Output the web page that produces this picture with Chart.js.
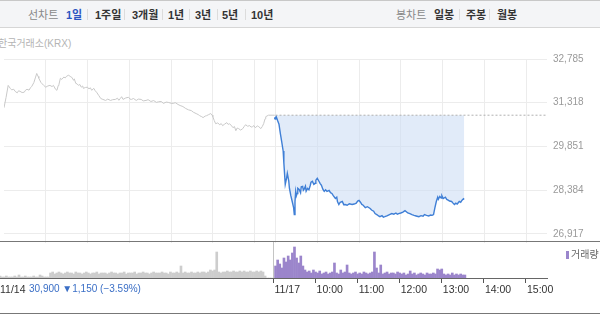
<!DOCTYPE html>
<html>
<head>
<meta charset="utf-8">
<script src="https://cdn.jsdelivr.net/npm/chart.js@4"></script>
<style>
    body { margin: 0; width: 600px; height: 315px; overflow: hidden; background: #fff;
        font-family: "Liberation Sans", "Noto Sans CJK KR", sans-serif; }
    .topBar { position: absolute; left: 0; top: 0; width: 600px; height: 28px; background: #f4f5f7;
        border-top: 1px solid #c8c8c8; border-bottom: 1px solid #d6d6d6; box-sizing: border-box; }
    .tab { position: absolute; top: 5px; font-size: 11px; font-weight: bold; color: #333; white-space: nowrap; }
    .tabOff { color: #888; font-weight: normal; }
    .tabOn { color: #2b55c2; }
    .sep { position: absolute; top: 8px; width: 1px; height: 11px; background: #dcdcdc; }
    .source { position: absolute; left: -2px; top: 35px; font-size: 10px; color: #b4b4b4; }
    .line { position: absolute; left: 0; width: 600px; height: 1px; background: #777; }
    .info { position: absolute; left: 29px; top: 283px; font-size: 10px; color: #3b6fc6; white-space: nowrap; }
    .legend { position: absolute; left: 566px; top: 246px; font-size: 10px; color: #666; white-space: nowrap; }
    .legend i { display: inline-block; width: 3px; height: 8px; background: #9a86cc; margin-right: 2px; vertical-align: -1px; }
    #priceBox { position: absolute; left: 0; top: 28px; width: 600px; height: 227px; }
    #volBox { position: absolute; left: 0; top: 242px; width: 600px; height: 71px; }
</style>
</head>
<body>
<div class="topBar">
    <span class="tab tabOff" style="left:28px">선차트</span>
    <span class="tab tabOn" style="left:66px">1일</span>
    <span class="sep" style="left:87px"></span>
    <span class="tab" style="left:95px">1주일</span>
    <span class="sep" style="left:124px"></span>
    <span class="tab" style="left:132px">3개월</span>
    <span class="sep" style="left:162px"></span>
    <span class="tab" style="left:168px">1년</span>
    <span class="sep" style="left:189px"></span>
    <span class="tab" style="left:195px">3년</span>
    <span class="sep" style="left:217px"></span>
    <span class="tab" style="left:222px">5년</span>
    <span class="sep" style="left:245px"></span>
    <span class="tab" style="left:251px">10년</span>

    <span class="tab tabOff" style="left:396px">봉차트</span>
    <span class="tab" style="left:434px">일봉</span>
    <span class="sep" style="left:459px"></span>
    <span class="tab" style="left:466px">주봉</span>
    <span class="sep" style="left:489px"></span>
    <span class="tab" style="left:497px">월봉</span>
</div>
<div class="source">한국거래소(KRX)</div>
<div id="priceBox"><canvas id="priceChart"></canvas></div>
<div class="line" style="top:241px"></div>
<div id="volBox"><canvas id="volChart"></canvas></div>
<div class="line" style="top:313px"></div>
<div class="legend"><i></i>거래량</div>
<div class="info">30,900 ▼1,150 (−3.59%)</div>

<script>
// minutes counted from 11/14 09:00; 11/17 09:00 = 390 (the two sessions sit side by side)
const prevClose = 30900;
const yTicks = [32785, 31318, 29851, 28384, 26917];
const gridMins = [60, 120, 180, 240, 300, 360, 390, 450, 510, 570, 630, 690, 750];
const xTickMins = [0, 390, 450, 510, 570, 630, 690, 750];
const xTickText = ['11/14', '11/17', '10:00', '11:00', '12:00', '13:00', '14:00', '15:00'];

const prevMin = [0, 3, 6, 9, 11, 14, 16, 19, 21, 23, 26, 29, 31, 33, 36, 38, 40, 43, 45, 47, 49, 50, 53, 55, 57, 60,
    63, 66, 69, 71, 74, 76, 78, 79, 81, 83, 86, 88, 90, 93, 95, 97, 100, 101, 103, 105, 107, 109, 111, 113, 114, 117,
    120, 122, 124, 126, 129, 131, 133, 136, 139, 142, 146, 149, 153, 156, 160, 163, 165, 167, 169, 171, 175, 179, 181,
    183, 186, 190, 193, 197, 200, 204, 207, 211, 215, 219, 222, 226, 229, 233, 236, 240, 243, 246, 250, 253, 257, 261,
    265, 269, 272, 276, 279, 281, 284, 286, 289, 291, 294, 297, 299, 300, 302, 304, 307, 310, 312, 314, 317, 320, 322,
    324, 327, 329, 331, 333, 335, 337, 340, 343, 345, 347, 350, 353, 355, 357, 359, 361, 364, 366, 369, 371, 373, 375,
    376, 380, 385, 389];
const prevPrice = [31150, 31500, 31900, 31800, 31750, 31770, 31700, 31650, 31720, 31700, 31660, 31670, 31740, 31770,
    31740, 31820, 31870, 32000, 32150, 32300, 32200, 32140, 32000, 31950, 31900, 31840, 31880, 31900, 31860, 31900,
    31770, 31735, 31900, 31940, 32140, 32100, 32180, 32150, 32210, 32240, 32200, 32180, 32070, 32120, 31970, 31950,
    31900, 31930, 31840, 31880, 31800, 31830, 31840, 31780, 31820, 31735, 31800, 31720, 31670, 31565, 31460, 31430,
    31395, 31440, 31395, 31420, 31430, 31470, 31400, 31460, 31520, 31430, 31480, 31500, 31440, 31430, 31460, 31395,
    31440, 31430, 31380, 31395, 31420, 31360, 31390, 31330, 31350, 31360, 31295, 31340, 31330, 31300, 31295, 31320,
    31260, 31225, 31190, 31125, 31080, 31055, 31000, 30955, 30920, 30885, 30850, 30820, 30870, 30885, 30920, 30955,
    30900, 30850, 30720, 30615, 30640, 30580, 30620, 30550, 30600, 30650, 30590, 30615, 30540, 30480, 30520, 30380,
    30470, 30450, 30400, 30450, 30520, 30580, 30530, 30550, 30500, 30515, 30550, 30480, 30540, 30515, 30450, 30520,
    30615, 30780, 30850, 30900, 30900, 30900];

const todayMin = [390, 391, 393, 395, 397, 399, 401, 402, 404, 406, 407, 409, 410, 412, 414, 416, 417, 418, 419, 420,
    421, 422, 424, 426, 427, 429, 430, 431, 433, 434, 436, 438, 440, 441, 443, 445, 447, 448, 450, 452, 454, 456, 458,
    460, 462, 464, 467, 469, 471, 473, 476, 478, 479, 481, 483, 486, 488, 490, 493, 496, 500, 503, 506, 508, 510, 512,
    514, 516, 519, 522, 526, 528, 531, 533, 536, 538, 540, 543, 545, 547, 550, 553, 557, 560, 563, 565, 567, 570, 573,
    576, 578, 580, 583, 586, 589, 592, 596, 599, 602, 604, 607, 610, 613, 615, 617, 619, 621, 623, 624, 626, 628, 629,
    631, 634, 636, 638, 640, 643, 645, 647, 649, 651, 654, 656, 658, 660, 661];
const todayPrice = [30800, 30850, 30720, 30600, 30280, 30000, 29700, 29300, 28580, 28800, 28950, 28700, 28450, 28200,
    28005, 27800, 27565, 28000, 28345, 28200, 28275, 28450, 28410, 28300, 28500, 28515, 28380, 28410, 28520, 28350,
    28445, 28400, 28550, 28650, 28685, 28580, 28615, 28720, 28785, 28700, 28615, 28550, 28420, 28345, 28400, 28345,
    28380, 28300, 28275, 28200, 28105, 28150, 28000, 27905, 27980, 28005, 27900, 27905, 27880, 27930, 27905, 27920,
    27950, 28020, 28040, 27980, 27905, 27880, 27800, 27830, 27770, 27720, 27680, 27600, 27560, 27520, 27495, 27530,
    27480, 27495, 27520, 27560, 27600, 27580, 27620, 27580, 27600, 27620, 27650, 27700, 27660, 27620, 27600, 27565,
    27540, 27520, 27495, 27530, 27510, 27565, 27540, 27520, 27550, 27540, 27565, 27800, 28005, 28150, 28080, 28175,
    28120, 28200, 28105, 28150, 28075, 28050, 28020, 28005, 27950, 27905, 27950, 27920, 28005, 27980, 28050, 28100,
    28075];

// volume, one bar per 3 minutes
const prevVolume = [2, 1, 1, 2, 1, 1, 1, 2, 1, 3, 1, 1, 2, 1, 1, 1, 2, 1, 1, 3, 2, 1, 1, 1,
    5, 6, 4, 5, 6, 5, 4, 5, 6, 5, 5, 4, 6, 5, 5, 4, 5, 6, 5, 4, 5, 5, 6, 4, 5, 5,
    5, 4, 5, 6, 5, 5, 4, 5, 5, 6, 4, 5, 5, 5, 6, 4, 5, 5, 6, 5, 5, 4, 5, 6, 5, 5,
    5, 6, 5, 5, 4, 6, 5, 5, 6, 5, 12, 5, 6, 5, 5, 6, 5, 5, 6, 5, 6, 6, 5, 6,
    8, 7, 8, 26, 6, 5, 6, 6, 7, 6, 6, 7, 6, 6, 7, 6, 7, 6, 6, 7, 6, 6, 7, 6, 7, 6,
    2, 0, 0, 0];
const todayVolume = [12, 18, 14, 10, 20, 16, 22, 18, 25, 31, 20, 15, 22, 12,
    8, 6, 7, 5, 8, 6, 5, 7, 4, 5, 6, 4, 5, 6,
    15, 5, 4, 8, 5, 6, 13, 5, 4, 5, 6, 4,
    5, 4, 6, 5, 4, 5, 6, 26, 10, 5, 13, 4, 5, 6, 4, 5, 5, 4, 6, 5,
    4, 5, 3, 4, 7, 4, 5, 3, 4, 5, 4, 3, 5, 4, 4, 5, 4, 9, 8, 9,
    4, 3, 4, 3, 5, 3, 4, 3, 4, 3, 3];


function toPoints(xs, ys) {
    return xs.map((x, i) => ({ x: x, y: ys[i] }));
}


function toBars(start, values) {
    return values.map((v, i) => ({ x: start + i * 3 + 1.5, y: v }));
}


function drawPriceChart() {
    const ctx = document.getElementById('priceChart');

    new Chart(ctx, {
        type: 'line',
        data: {
            datasets: [{
                data: [{ x: 390, y: prevClose }, { x: 780, y: prevClose }],
                borderColor: '#b0b0b0',
                borderWidth: 1,
                borderDash: [2, 2],
                pointRadius: 0
            }, {
                data: toPoints(prevMin, prevPrice),
                borderColor: '#c9c9c9',
                borderWidth: 1,
                pointRadius: 0
            }, {
                data: toPoints(todayMin, todayPrice),
                borderColor: '#3f7fd6',
                borderWidth: 1.4,
                pointRadius: (c) => c.dataIndex === 0 ? 1.5 : 0,
                pointBackgroundColor: '#3f7fd6',
                pointBorderWidth: 0,
                fill: { value: prevClose },
                backgroundColor: 'rgba(205,221,245,0.6)'
            }]
        },
        options: {
            responsive: true,
            maintainAspectRatio: false,
            animation: false,
            layout: { padding: { top: 31, left: 0, right: 0, bottom: 0 } },
            plugins: { legend: { display: false }, tooltip: { enabled: false } },
            scales: {
                x: {
                    type: 'linear',
                    min: 0,
                    max: 780,
                    afterBuildTicks: (s) => { s.ticks = gridMins.map(v => ({ value: v })); },
                    afterFit: (s) => { s.height = 0; },
                    ticks: { display: false },
                    grid: { color: '#ececec', drawTicks: false },
                    border: { display: false }
                },
                y: {
                    position: 'right',
                    min: 26613,
                    max: 32785,
                    afterBuildTicks: (s) => { s.ticks = yTicks.map(v => ({ value: v })); },
                    afterFit: (s) => { s.width = 53; },
                    ticks: {
                        padding: 6,
                        color: '#9a9a9a',
                        font: { size: 10, family: 'Liberation Sans' },
                        callback: (v) => v.toLocaleString('en-US')
                    },
                    grid: { color: '#ececec', drawTicks: false },
                    border: { display: false }
                }
            }
        }
    });
}


// time labels sit to the right of their tick, like the original widget
const volLabels = {
    id: 'volLabels',
    afterDraw(chart) {
        const ctx = chart.ctx;
        const xs = chart.scales.x;
        ctx.save();
        ctx.font = '10.5px "Liberation Sans"';
        ctx.fillStyle = '#333';
        ctx.textBaseline = 'middle';
        ctx.textAlign = 'left';
        xTickMins.forEach((m, i) => {
            ctx.fillText(xTickText[i], xs.getPixelForValue(m) + (i === 0 ? 0 : 1), chart.chartArea.bottom + 12);
        });
        ctx.restore();
    }
};


function drawVolumeChart() {
    const ctx = document.getElementById('volChart');

    new Chart(ctx, {
        type: 'bar',
        data: {
            datasets: [{
                data: toBars(0, prevVolume),
                backgroundColor: '#cdcdcd',
                barThickness: 2
            }, {
                data: toBars(390, todayVolume),
                backgroundColor: '#9b85cb',
                barThickness: 2
            }]
        },
        options: {
            responsive: true,
            maintainAspectRatio: false,
            animation: false,
            layout: { padding: { top: 0, left: 0, right: 53, bottom: 0 } },
            plugins: { legend: { display: false }, tooltip: { enabled: false } },
            scales: {
                x: {
                    type: 'linear',
                    min: 0,
                    max: 780,
                    offset: false,
                    afterBuildTicks: (s) => { s.ticks = xTickMins.map(v => ({ value: v })); },
                    afterFit: (s) => { s.height = 35; },
                    ticks: { display: false },
                    grid: {
                        offset: false,
                        color: (c) => c.tick && c.tick.value === 390 ? '#c4c4c4' : 'rgba(0,0,0,0)',
                        tickColor: (c) => c.tick && c.tick.value >= 390 ? '#555' : 'rgba(0,0,0,0)',
                        tickLength: 5
                    },
                    border: { display: true, color: '#666', width: 1 }
                },
                y: {
                    display: false,
                    min: 0,
                    max: 36
                }
            }
        },
        plugins: [volLabels]
    });
}


drawPriceChart();
drawVolumeChart();
</script>
</body>
</html>
